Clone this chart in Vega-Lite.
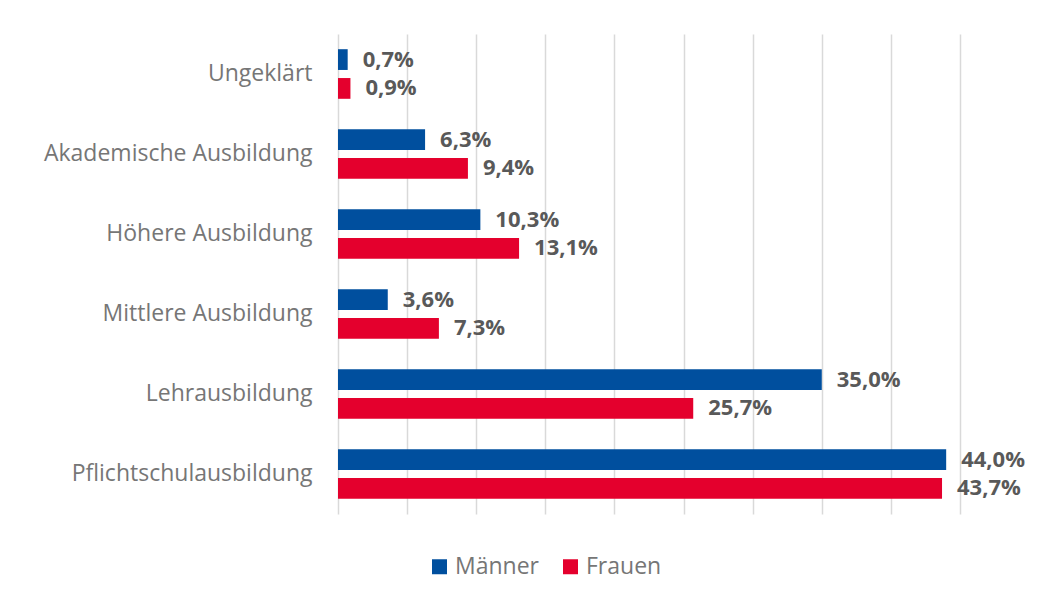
{
  "$schema": "https://vega.github.io/schema/vega-lite/v6.json",
  "autosize": {"type": "none"},
  "width": 622,
  "height": 480,
  "padding": {"left": 338, "top": 34, "right": 90, "bottom": 85},
  "background": "white",
  "data": {
    "values": [
      {"kat": "Ungeklärt", "geschlecht": "Männer", "wert": 0.7, "label": "0,7%"},
      {"kat": "Ungeklärt", "geschlecht": "Frauen", "wert": 0.9, "label": "0,9%"},
      {"kat": "Akademische Ausbildung", "geschlecht": "Männer", "wert": 6.3, "label": "6,3%"},
      {"kat": "Akademische Ausbildung", "geschlecht": "Frauen", "wert": 9.4, "label": "9,4%"},
      {"kat": "Höhere Ausbildung", "geschlecht": "Männer", "wert": 10.3, "label": "10,3%"},
      {"kat": "Höhere Ausbildung", "geschlecht": "Frauen", "wert": 13.1, "label": "13,1%"},
      {"kat": "Mittlere Ausbildung", "geschlecht": "Männer", "wert": 3.6, "label": "3,6%"},
      {"kat": "Mittlere Ausbildung", "geschlecht": "Frauen", "wert": 7.3, "label": "7,3%"},
      {"kat": "Lehrausbildung", "geschlecht": "Männer", "wert": 35.0, "label": "35,0%"},
      {"kat": "Lehrausbildung", "geschlecht": "Frauen", "wert": 25.7, "label": "25,7%"},
      {"kat": "Pflichtschulausbildung", "geschlecht": "Männer", "wert": 44.0, "label": "44,0%"},
      {"kat": "Pflichtschulausbildung", "geschlecht": "Frauen", "wert": 43.7, "label": "43,7%"}
    ]
  },
  "encoding": {
    "y": {
      "field": "kat",
      "type": "nominal",
      "sort": null,
      "scale": {"paddingInner": 0.38, "paddingOuter": 0.19},
      "axis": {
        "title": null,
        "ticks": false,
        "domain": false,
        "labelPadding": 26,
        "labelFont": "Open Sans",
        "labelFontSize": 23,
        "labelColor": "#767676",
        "labelLimit": 330
      }
    },
    "yOffset": {
      "field": "geschlecht",
      "type": "nominal",
      "sort": ["Männer", "Frauen"],
      "scale": {"paddingInner": 0.28}
    },
    "x": {
      "field": "wert",
      "type": "quantitative",
      "scale": {"domain": [0, 45], "nice": false},
      "axis": {
        "title": null,
        "labels": false,
        "ticks": false,
        "domain": false,
        "values": [0, 5, 10, 15, 20, 25, 30, 35, 40, 45],
        "grid": true,
        "gridColor": "#d9d9d9",
        "gridWidth": 1.5
      }
    }
  },
  "layer": [
    {
      "mark": {"type": "bar"},
      "encoding": {
        "color": {
          "field": "geschlecht",
          "type": "nominal",
          "sort": ["Männer", "Frauen"],
          "scale": {"domain": ["Männer", "Frauen"], "range": ["#004F9E", "#E4002D"]},
          "legend": {
            "title": null,
            "orient": "none",
            "direction": "horizontal",
            "legendX": 90,
            "legendY": 521,
            "symbolType": "square",
            "symbolSize": 225,
            "symbolStrokeWidth": 0,
            "labelFont": "Open Sans",
            "labelFontSize": 23,
            "labelColor": "#767676",
            "columnPadding": 20,
            "labelOffset": 4
          }
        }
      }
    },
    {
      "mark": {
        "type": "text",
        "align": "left",
        "baseline": "middle",
        "dx": 15,
        "font": "Open Sans",
        "fontWeight": "bold",
        "fontSize": 22,
        "color": "#595959"
      },
      "encoding": {"text": {"field": "label"}}
    }
  ],
  "config": {"view": {"stroke": null}}
}
